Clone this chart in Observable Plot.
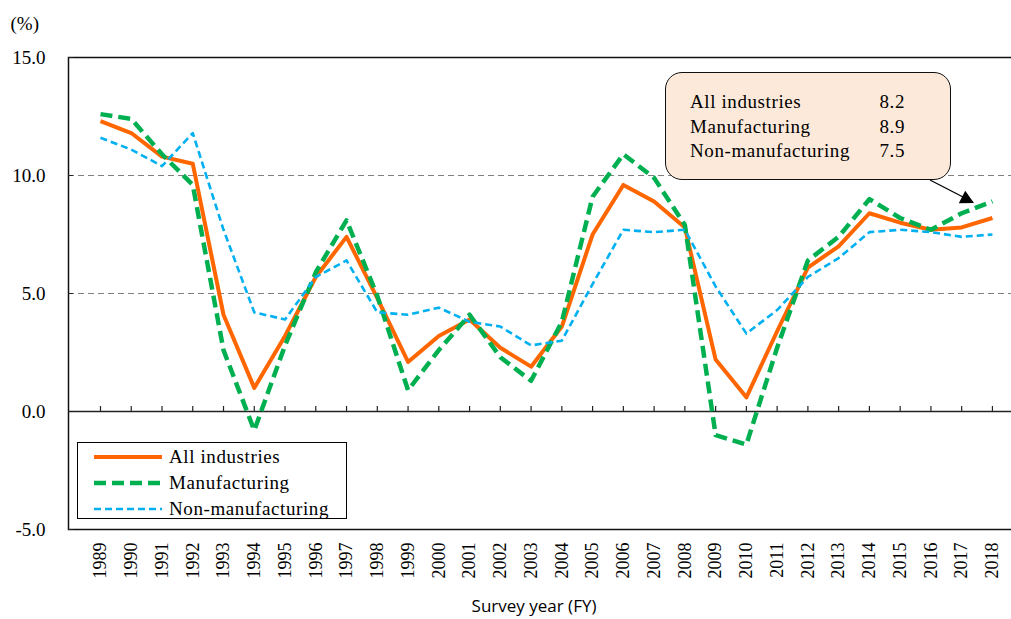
<!DOCTYPE html>
<html><head><meta charset="utf-8">
<script src="https://cdn.jsdelivr.net/npm/d3@7"></script>
<script src="https://cdn.jsdelivr.net/npm/@observablehq/plot@0.6"></script>
<style>
html,body{margin:0;padding:0;overflow:hidden;background:#fff;}
#wrap{position:relative;width:1011px;height:619px;overflow:hidden;}
.serif{font-family:"Liberation Serif",serif;color:#000;}
#legend{position:absolute;left:77px;top:442px;width:268px;height:75px;border:1.5px solid #000;background:#fff;box-sizing:content-box;}
.lrow{position:absolute;left:15px;height:26px;display:flex;align-items:center;font-size:19px;letter-spacing:0.6px;}
.lrow svg{width:70px;height:10px;margin-right:6px;}
#box{position:absolute;left:665px;top:72px;width:284px;height:106px;border:1.5px solid #111;border-radius:17px;background:#fde9d9;}
.brow{position:absolute;left:24px;width:215px;font-size:19px;letter-spacing:0.6px;display:flex;justify-content:space-between;}
#overlay{position:absolute;left:0;top:0;pointer-events:none;}
</style></head><body><div id="wrap"></div>
<script>
const years = [1989,1990,1991,1992,1993,1994,1995,1996,1997,1998,1999,2000,2001,2002,2003,2004,2005,2006,2007,2008,2009,2010,2011,2012,2013,2014,2015,2016,2017,2018];
const allIndustries = [12.3,11.8,10.8,10.5,4.1,1.0,3.2,5.7,7.4,4.8,2.1,3.2,3.9,2.7,1.9,3.6,7.5,9.6,8.9,7.8,2.2,0.6,3.4,6.1,7.0,8.4,8.0,7.7,7.8,8.2];
const manufacturing = [12.6,12.4,10.9,9.6,2.6,-0.8,2.8,5.9,8.1,4.9,0.9,2.6,4.1,2.3,1.3,3.8,9.1,10.9,9.9,7.9,-1.0,-1.4,2.7,6.4,7.4,9.0,8.2,7.7,8.4,8.9];
const nonManufacturing = [11.6,11.1,10.4,11.8,7.7,4.2,3.9,5.7,6.4,4.2,4.1,4.4,3.8,3.6,2.8,3.0,5.4,7.7,7.6,7.7,5.3,3.3,4.3,5.7,6.5,7.6,7.7,7.6,7.4,7.5];
const yTicks = [-5,0,5,10,15];
const gridLines = [5,10];
const seriesNames = ["All industries","Manufacturing","Non-manufacturing"];
const latestValues = ["8.2","8.9","7.5"];

const colors = ["#ff6600","#00b050","#00b0f0"];
const widths = [4,4.5,2.6];
const dashes = [null,"12,6","7,4"];
const serif = '"Liberation Serif",serif';

const seriesData = [allIndustries, manufacturing, nonManufacturing].map(vals => years.map((y,i)=>({year:y, value:vals[i]})));

const chart = Plot.plot({
  width: 1011, height: 619,
  marginTop: 57, marginBottom: 90, marginLeft: 68, marginRight: 0,
  style: {background: "transparent", overflow: "hidden"},
  x: {type: "linear", domain: [1987.96, 2018.62]},
  y: {domain: [-5, 15]},
  marks: [
    Plot.ruleY(gridLines, {stroke: "#808080", strokeWidth: 1.2, strokeDasharray: "6,4"}),
    Plot.ruleY([0], {stroke: "#222", strokeWidth: 1.6}),
    Plot.ruleX(years, {x: d => d, y1: 0, y2: 0, insetBottom: 5, stroke: "#222", strokeWidth: 1.2}),
    Plot.frame({stroke: "#111", strokeWidth: 1.5, insetRight: -5}),
    Plot.axisY({ticks: yTicks, tickSize: 0, tickPadding: 23, tickFormat: d => d.toFixed(1), fontFamily: serif, fontSize: 19, label: null, fill: "#000"}),
    Plot.axisY({ticks: yTicks, tickSize: 5, dx: 5, text: null, label: null, stroke: "#222"}),
    Plot.axisX({ticks: years, tickSize: 0, tickRotate: -90, tickPadding: 13, tickFormat: d => String(d), fontFamily: serif, fontSize: 18, label: null, fill: "#000"}),
    ...seriesData.map((data, k) => Plot.line(data, {x: "year", y: "value", stroke: colors[k], strokeWidth: widths[k], strokeDasharray: dashes[k], strokeLinejoin: "round", strokeLinecap: "butt"})),
    Plot.text(["(%)"], {frameAnchor: "top-left", dx: -58, dy: -34, lineAnchor: "middle", textAnchor: "start", fontFamily: serif, fontSize: 19, fill: "#000"}),
    Plot.text(["Survey year (FY)"], {frameAnchor: "bottom", dx: -6, dy: 77, lineAnchor: "middle", fontFamily: '"Open Sans","Noto Sans",sans-serif', fontSize: 17, fill: "#000"})
  ]
});
const wrap = document.getElementById("wrap");
wrap.appendChild(chart);

const legend = document.createElement("div");
legend.id = "legend"; legend.className = "serif";
seriesNames.forEach((name, k) => {
  const row = document.createElement("div");
  row.className = "lrow";
  row.style.top = (1 + k * 26) + "px";
  row.innerHTML = `<svg viewBox="0 0 70 10"><line x1="1" y1="5" x2="69" y2="5" stroke="${colors[k]}" stroke-width="${widths[k]}" ${dashes[k] ? `stroke-dasharray="${dashes[k]}"` : ""}/></svg><span>${name}</span>`;
  legend.appendChild(row);
});
wrap.appendChild(legend);

const box = document.createElement("div");
box.id = "box"; box.className = "serif";
seriesNames.forEach((name, k) => {
  const row = document.createElement("div");
  row.className = "brow";
  row.style.top = (18 + k * 24.5) + "px";
  row.innerHTML = `<span>${name}</span><span>${latestValues[k]}</span>`;
  box.appendChild(row);
});
wrap.appendChild(box);

const ns = "http://www.w3.org/2000/svg";
const ov = document.createElementNS(ns, "svg");
ov.setAttribute("id", "overlay"); ov.setAttribute("width", 1011); ov.setAttribute("height", 619);
ov.innerHTML = `<line x1="930" y1="180" x2="963" y2="197" stroke="#000" stroke-width="1.3"/><polygon points="974,203 958.8,203.2 965.2,190.8" fill="#000"/>`;
wrap.appendChild(ov);
</script>
</body></html>
